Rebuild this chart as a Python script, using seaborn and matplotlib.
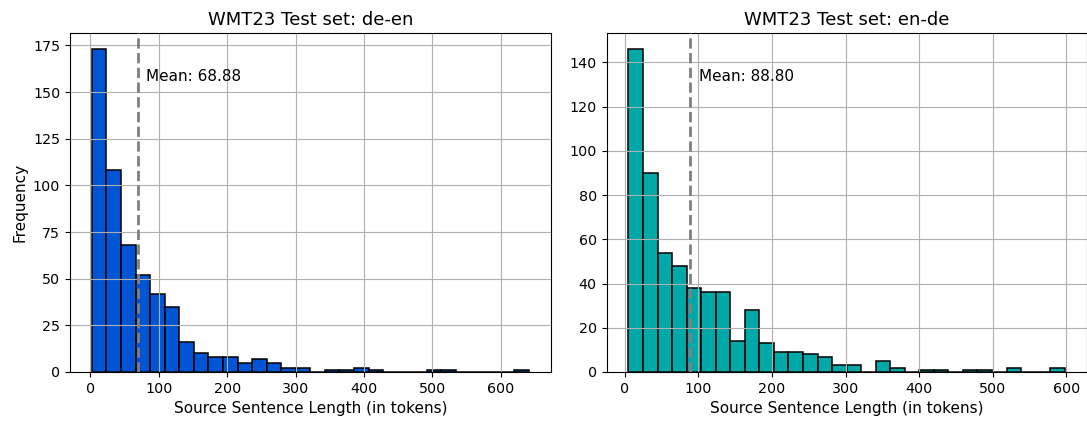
import numpy as np
import pandas as pd
import matplotlib
matplotlib.use("Agg")
import matplotlib.pyplot as plt
import seaborn as sns

# ---- data ----
de_en_counts = [173, 108, 68, 52, 42, 35, 16, 10, 8, 8, 5, 7, 5, 2, 2,
                0, 1, 1, 2, 1, 0, 0, 0, 1, 1, 0, 0, 0, 0, 1]
de_en_min, de_en_max = 2, 641
de_en_mean = 68.88

en_de_counts = [146, 90, 54, 48, 38, 36, 36, 14, 28, 13, 9, 9, 8, 7, 3,
                3, 0, 5, 2, 0, 1, 1, 0, 1, 1, 0, 2, 0, 0, 2]
en_de_min, en_de_max = 5, 598
en_de_mean = 88.80

titles = ["WMT23 Test set: de-en", "WMT23 Test set: en-de"]
xlabel = "Source Sentence Length (in tokens)"
ylabel = "Frequency"
colors = ["#0055d4", "#00a8a8"]

plt.rcParams['font.family'] = ['DejaVu Sans']
fig = plt.figure(figsize=(10.87, 4.21), dpi=100)
ax1 = fig.add_axes([0.0644, 0.1164, 0.4422, 0.8052])
ax2 = fig.add_axes([0.5581, 0.1164, 0.4415, 0.8052])

panels = [
    (ax1, de_en_counts, de_en_min, de_en_max, de_en_mean, colors[0], titles[0]),
    (ax2, en_de_counts, en_de_min, en_de_max, en_de_mean, colors[1], titles[1]),
]

for i, (ax, counts, lo, hi, mean, col, title) in enumerate(panels):
    edges = np.linspace(lo, hi, len(counts) + 1)
    df = pd.DataFrame({"length": (edges[:-1] + edges[1:]) / 2,
                       "count": np.asarray(counts, dtype=float)})
    sns.histplot(data=df, x="length", weights="count", bins=len(counts),
                 binrange=(lo, hi), ax=ax,
                 color=col, edgecolor="black", linewidth=1.1, alpha=1.0)
    ax.grid(True, color="#b0b0b0", linewidth=0.8)
    ax.axvline(mean, color="gray", linestyle="--", linewidth=2, zorder=3)
    ax.text(mean + 12, max(counts) * 0.9, f"Mean: {mean:.2f}", fontsize=11)
    ax.set_title(title, fontsize=13)
    ax.set_xlabel(xlabel, fontsize=11)
    ax.set_ylabel(ylabel if i == 0 else "", fontsize=11)
    ax.tick_params(labelsize=10.3)
    for s in ax.spines.values():
        s.set_color("black")
        s.set_linewidth(0.8)

ax1.set_yticks([0, 25, 50, 75, 100, 125, 150, 175])
ax2.set_yticks([0, 20, 40, 60, 80, 100, 120, 140])

fig.savefig("out.png", dpi=100)
